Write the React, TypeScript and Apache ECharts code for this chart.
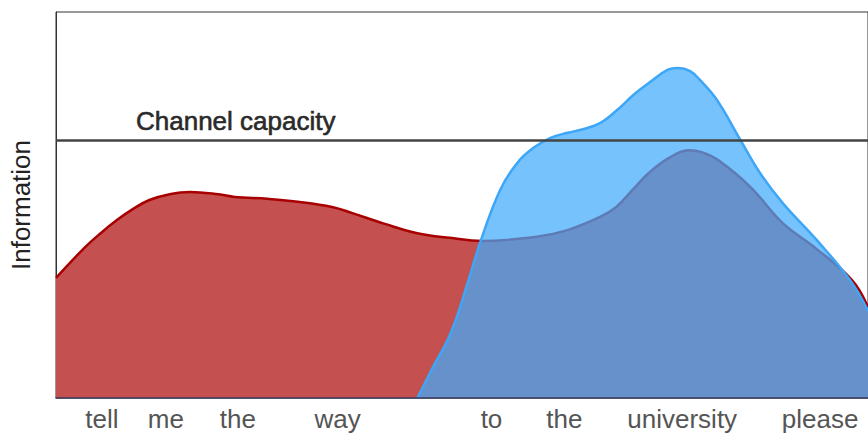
import React, { useEffect, useRef } from "react";
import * as echarts from "echarts";

// Word positions on the x axis (0..100) and their labels
const wordLabels = ["tell", "me", "the", "way", "to", "the", "university", "please"];
const wordPositions = [5.66, 13.53, 22.39, 34.69, 53.63, 62.61, 77.12, 94.1];

// Red area: information of sentence (x, information)
const redX = [0, 3.5, 5.5, 7.5, 9.5, 11.5, 14, 16.5, 20, 22, 26, 30, 34, 36.5, 40.5, 44.5, 48.5, 52.5, 59, 63, 67, 69, 71, 73, 75.5, 78, 79.5, 81.5, 85.5, 89.5, 93.5, 98, 100];
const redY = [3.11, 3.89, 4.27, 4.61, 4.9, 5.13, 5.28, 5.34, 5.28, 5.21, 5.16, 5.08, 4.95, 4.79, 4.51, 4.27, 4.15, 4.07, 4.17, 4.35, 4.69, 4.95, 5.39, 5.83, 6.22, 6.42, 6.37, 6.17, 5.47, 4.53, 3.89, 3.06, 2.36];

// Blue area (starts at the word "to")
const blueX = [44.5, 46.3, 48.6, 50.7, 52.3, 54.7, 56.8, 58.8, 60.9, 63, 65, 67, 69.1, 71.1, 73.2, 75.3, 76.6, 78.1, 79.3, 81.4, 84.3, 86.7, 89.5, 93.7, 97.8, 100];
const blueY = [0, 0.75, 1.68, 2.98, 4.07, 5.39, 6.09, 6.48, 6.74, 6.87, 6.97, 7.12, 7.46, 7.85, 8.19, 8.5, 8.55, 8.47, 8.24, 7.72, 6.68, 5.83, 5.05, 4.09, 3.05, 2.26];

const channelCapacity = 6.68;
const channelLabel = "Channel capacity";

const FONT = "'Liberation Sans', Arial, sans-serif";

export default function App() {
  const ref = useRef<HTMLDivElement>(null);
  useEffect(() => {
    if (!ref.current) return;
    const chart = echarts.init(ref.current, undefined, { renderer: "svg" });
    chart.setOption({
      animation: false,
      grid: {
        left: 55,
        top: 12,
        right: -2,
        bottom: 35,
        show: true,
        borderColor: "#333",
        borderWidth: 1,
      },
      xAxis: {
        type: "value",
        min: 0,
        max: 100,
        z: 10,
        splitLine: { show: false },
        axisTick: { show: false },
        axisLine: { lineStyle: { color: "#3a3a5c", width: 1.5 } },
        axisLabel: {
          customValues: wordPositions,
          formatter: (v: number) => {
            let best = 0;
            for (let i = 1; i < wordPositions.length; i++) {
              if (Math.abs(wordPositions[i] - v) < Math.abs(wordPositions[best] - v)) best = i;
            }
            return wordLabels[best];
          },
          fontSize: 26,
          fontFamily: FONT,
          color: "#555",
          margin: 8,
        },
      },
      yAxis: {
        type: "value",
        min: 0,
        max: 10,
        splitLine: { show: false },
        axisTick: { show: false },
        axisLabel: { show: false },
        axisLine: { show: true, lineStyle: { color: "#333" } },
        name: "Information",
        nameLocation: "middle",
        nameRotate: 90,
        nameGap: 22,
        nameTextStyle: { fontSize: 26, fontFamily: FONT, color: "#222" },
      },
      series: [
        {
          type: "line",
          smooth: 0.4,
          symbol: "none",
          data: redX.map((x, i) => [x, redY[i]]),
          lineStyle: { color: "#a80000", width: 2.5 },
          areaStyle: { color: "#c55050", opacity: 1 },
          z: 2,
          markLine: {
            silent: true,
            symbol: ["none", "none"],
            lineStyle: { color: "#444", width: 2.5, type: "solid" },
            label: {
              show: true,
              position: "insideStartTop",
              formatter: channelLabel,
              fontSize: 26,
              fontFamily: FONT,
              color: "#2a2a2a",
              textBorderColor: "#2a2a2a",
              textBorderWidth: 0.6,
              distance: [80, 6],
            },
            data: [{ yAxis: channelCapacity }],
            z: 5,
          },
        },
        {
          type: "line",
          smooth: 0.4,
          symbol: "none",
          data: blueX.map((x, i) => [x, blueY[i]]),
          lineStyle: { color: "#3ea6f7", width: 2.5 },
          areaStyle: { color: "rgb(65,170,251)", opacity: 0.72 },
          z: 3,
        },
      ],
    });
    return () => chart.dispose();
  }, []);
  return (
    <div
      ref={ref}
      style={{ position: "fixed", left: 0, top: 0, width: 868, height: 433, background: "#fff" }}
    />
  );
}
